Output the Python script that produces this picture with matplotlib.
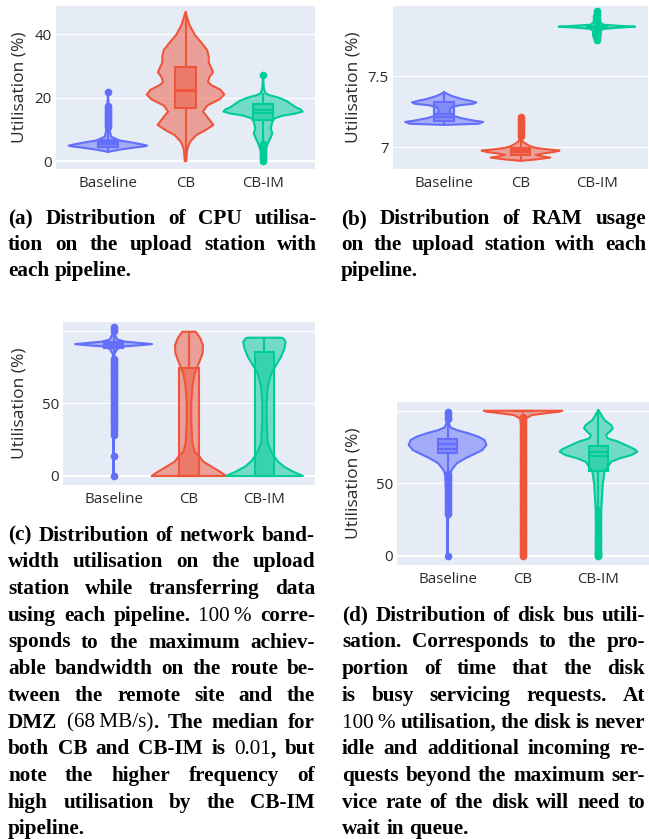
import matplotlib
matplotlib.use('Agg')
import matplotlib.pyplot as plt
from matplotlib.patches import Polygon, Rectangle
from matplotlib.colors import to_rgba
import numpy as np
import re

W, H, DPI = 649, 839, 100

categories = ['Baseline', 'CB', 'CB-IM']
colors = ['#636EFA', '#EF553B', '#00CC96']

# ---------------- (a) CPU utilisation ----------------
cpu_shape_y = [[2.9, 3.6, 4.2, 4.6, 4.84, 5.2, 5.8, 6.5, 7.7, 10, 15, 21.7],
               [0, 2, 4, 6.1, 8.2, 9.8, 11.4, 13, 15.6, 17.5, 19.5, 21, 22.5, 24, 25, 26.5, 28, 29.5, 31, 33, 35, 37.2, 39.8, 43, 47],
               [0, 2, 4, 6, 7.5, 8.7, 10.3, 12.4, 13.5, 14.3, 15.0, 15.6, 16.2, 17.0, 18.0, 19.0, 20.0, 20.8, 21.4, 23, 25, 27]]
cpu_shape_w = [[0.0, 0.15, 0.32, 0.46, 0.505, 0.45, 0.32, 0.15, 0.04, 0.02, 0.012, 0.0],
               [0.01, 0.015, 0.025, 0.06, 0.14, 0.26, 0.36, 0.31, 0.225, 0.28, 0.44, 0.50, 0.45, 0.33, 0.29, 0.31, 0.355, 0.33, 0.30, 0.30, 0.28, 0.21, 0.12, 0.05, 0.0],
               [0.0, 0.02, 0.04, 0.07, 0.10, 0.12, 0.10, 0.12, 0.15, 0.25, 0.42, 0.51, 0.49, 0.42, 0.36, 0.30, 0.20, 0.08, 0.03, 0.01, 0.005, 0.0]]
cpu_q1 = [4.3, 16.6, 12.9]
cpu_median = [5.3, 22.1, 16.2]
cpu_q3 = [6.8, 29.6, 17.9]
cpu_mean = [6.1, 22.5, 15.3]
cpu_whisker_lo = [2.9, 0.0, 5.6]
cpu_whisker_hi = [10.4, 47.0, 21.3]
cpu_outliers = [[10.8, 11.4, 12.0, 12.6, 13.2, 13.8, 14.4, 15.0, 15.6, 16.2, 16.8, 17.4, 21.7],
                [],
                [0.0, 0.6, 1.2, 1.8, 2.4, 3.0, 3.6, 4.2, 4.8, 5.4, 27.0]]

# ---------------- (b) RAM usage ----------------
ram_shape_y = [[7.158, 7.165, 7.178, 7.19, 7.205, 7.22, 7.24, 7.26, 7.28, 7.295, 7.305, 7.315, 7.325, 7.34, 7.36, 7.385],
               [6.905, 6.915, 6.928, 6.937, 6.947, 6.957, 6.967, 6.977, 6.986, 6.996, 7.01, 7.025, 7.04, 7.06, 7.1, 7.15, 7.22],
               [7.75, 7.765, 7.79, 7.815, 7.83, 7.838, 7.846, 7.852, 7.86, 7.88, 7.92, 7.955]]
ram_shape_w = [[0.05, 0.45, 0.51, 0.36, 0.22, 0.13, 0.08, 0.07, 0.09, 0.2, 0.38, 0.42, 0.35, 0.22, 0.1, 0.0],
               [0.0, 0.2, 0.39, 0.28, 0.2, 0.3, 0.44, 0.51, 0.35, 0.2, 0.12, 0.07, 0.03, 0.01, 0.005, 0.005, 0.0],
               [0.0, 0.04, 0.05, 0.05, 0.08, 0.25, 0.5, 0.3, 0.08, 0.04, 0.04, 0.0]]
ram_q1 = [7.185, 6.946, 7.840]
ram_median = [7.215, 6.970, 7.846]
ram_q3 = [7.315, 6.998, 7.853]
ram_mean = [7.235, 6.978, 7.847]
ram_whisker_lo = [7.158, 6.905, 7.822]
ram_whisker_hi = [7.385, 7.07, 7.872]
ram_outliers = [[],
                [7.08, 7.095, 7.11, 7.125, 7.14, 7.155, 7.17, 7.185, 7.2, 7.215],
                [7.755, 7.765, 7.775, 7.785, 7.795, 7.805, 7.815, 7.88, 7.895, 7.91, 7.925, 7.94, 7.955]]

# ---------------- (c) Network bandwidth ----------------
net_shape_y = [[0, 30, 60, 84, 87.5, 89.2, 90.2, 90.8, 91.4, 92.5, 94, 97, 102.5],
               [0, 3, 6.4, 9.9, 13.3, 16.7, 22.5, 38.5, 50, 61.5, 70.6, 77.5, 84.4, 90.1, 94.7, 98.6, 99.3],
               [0, 3, 6.4, 9.9, 13.3, 16.7, 22.5, 38.5, 50, 61.5, 70.6, 76.4, 82, 87.8, 92.4, 94.7, 95.2]]
net_shape_w = [[0.0, 0.006, 0.006, 0.01, 0.05, 0.15, 0.40, 0.51, 0.38, 0.15, 0.05, 0.02, 0.0],
               [0.495, 0.41, 0.30, 0.19, 0.14, 0.075, 0.045, 0.03, 0.03, 0.045, 0.075, 0.13, 0.18, 0.185, 0.15, 0.10, 0.09],
               [0.51, 0.38, 0.26, 0.18, 0.13, 0.09, 0.044, 0.03, 0.03, 0.044, 0.09, 0.155, 0.22, 0.265, 0.28, 0.25, 0.22]]
net_q1 = [88.0, 0.01, 0.01]
net_median = [90.6, 0.01, 0.01]
net_q3 = [92.4, 74.5, 85.1]
net_mean = [89.6, np.nan, np.nan]
net_whisker_lo = [81.5, 0.0, 0.0]
net_whisker_hi = [98.5, 99.3, 95.2]
net_outliers = [[0, 14, 28.5, 30, 31.5, 34, 35.5, 37, 38.5, 40, 41.5, 43, 44.5, 46, 47.5, 49, 50.5, 52, 53.5, 55,
                 56.5, 58, 59.5, 61, 62.5, 64, 65.5, 67, 68.5, 70, 71.5, 73, 74.5, 76, 77.5, 79, 80.5,
                 99.5, 101, 102.5],
                [],
                []]

# ---------------- (d) Disk bus utilisation ----------------
disk_shape_y = [[0, 20, 29, 40, 55, 58, 60.3, 63.8, 67.2, 70.6, 72.9, 76.4, 79.8, 82.1, 84.4, 86.7, 88.5, 92, 99.5],
                [0, 50, 90, 94.7, 97, 98.6, 99.3, 100],
                [0, 10, 20, 30, 34, 38.5, 50, 58, 61.5, 64.9, 67.2, 69.5, 71.8, 73.5, 75.2, 78.7, 81, 83.3, 85.6, 87.8, 90.1, 93.6, 97, 100.5]]
disk_shape_w = [[0.0, 0.006, 0.008, 0.015, 0.03, 0.044, 0.07, 0.124, 0.235, 0.37, 0.46, 0.515, 0.49, 0.41, 0.28, 0.12, 0.04, 0.01, 0.0],
                [0.0, 0.01, 0.02, 0.04, 0.12, 0.35, 0.48, 0.52],
                [0.0, 0.01, 0.02, 0.03, 0.04, 0.044, 0.058, 0.08, 0.124, 0.17, 0.28, 0.44, 0.515, 0.48, 0.41, 0.26, 0.12, 0.10, 0.15, 0.19, 0.17, 0.08, 0.04, 0.0]]
disk_q1 = [71.1, 99.6, 58.5]
disk_median = [77.0, 100.0, 71.8]
disk_q3 = [80.3, 100.0, 75.9]
disk_mean = [73.4, np.nan, 69.0]
disk_whisker_lo = [57.5, 99.0, 33.0]
disk_whisker_hi = [93.5, 100.0, 100.5]
disk_outliers = [[0, 29, 30.5, 32, 33.5, 35, 36.5, 38.5, 40, 41.5, 43, 44.5, 46, 47.5, 49, 50.5, 52, 53.5, 55, 56.5,
                  94.5, 96, 97.5, 99],
                 [0, 1.5, 3, 4.5, 6, 7.5, 9, 10.5, 12, 13.5, 15, 16.5, 18, 19.5, 21, 22.5, 24, 25.5, 27, 28.5,
                  30, 31.5, 33, 34.5, 36, 37.5, 39, 40.5, 42, 43.5, 45, 46.5, 48, 49.5, 51, 52.5, 54, 55.5,
                  57, 58.5, 60, 61.5, 63, 64.5, 66, 67.5, 69, 70.5, 72, 73.5, 75, 76.5, 78, 79.5, 81, 82.5,
                  84, 85.5, 87, 88.5, 90, 91.5, 93, 94.5, 96],
                 [0, 0.6, 1.2, 2, 3, 4, 5, 6.5, 8, 9.5, 11, 12.5, 14, 15.5, 17, 18.5, 20, 21.5, 23, 24.5,
                  26, 27.5, 29, 30.5, 32]]

y_label = 'Utilisation (%)'
cpu_ticks, cpu_ticklabels = [0, 20, 40], ['0', '20', '40']
ram_ticks, ram_ticklabels = [7, 7.5], ['7', '7.5']
net_ticks, net_ticklabels = [0, 50, 100], ['0', '50', '']
disk_ticks, disk_ticklabels = [0, 50, 100], ['0', '50', '']

# Captions ({...} = regular weight)
caption_a = ["(a) Distribution of CPU utilisa-",
             "tion on the upload station with",
             "each pipeline."]
caption_b = ["(b) Distribution of RAM usage",
             "on the upload station with each",
             "pipeline."]
caption_c = ["(c) Distribution of network band-",
             "width utilisation on the upload",
             "station while transferring data",
             "using each pipeline. {100\u2009%} corre-",
             "sponds to the maximum achiev-",
             "able bandwidth on the route be-",
             "tween the remote site and the",
             "DMZ {(68\u2009MB/s)}. The median for",
             "both CB and CB-IM is {0.01}, but",
             "note the higher frequency of",
             "high utilisation by the CB-IM",
             "pipeline."]
caption_d = ["(d) Distribution of disk bus utili-",
             "sation. Corresponds to the pro-",
             "portion of time that the disk",
             "is busy servicing requests. At",
             "{100\u2009%} utilisation, the disk is never",
             "idle and additional incoming re-",
             "quests beyond the maximum ser-",
             "vice rate of the disk will need to",
             "wait in queue."]

# ---------------- styling ----------------
BG = '#E5ECF6'
TEXT = '#2a2a2a'
TICK_FONT = ['Open Sans', 'DejaVu Sans']
SERIF = ['Liberation Serif', 'DejaVu Serif']

fig = plt.figure(figsize=(W / DPI, H / DPI), dpi=DPI)
fig.patch.set_facecolor('white')


def px_axes(x0, y0, x1, y1):
    return fig.add_axes([x0 / W, 1 - y1 / H, (x1 - x0) / W, (y1 - y0) / H])


panels = [
    dict(box=(56, 6, 315, 169), ylim=(-2.5, 48.9), ticks=cpu_ticks, tl=cpu_ticklabels, zero=True,
         sy=cpu_shape_y, sw=cpu_shape_w, q1=cpu_q1, med=cpu_median, q3=cpu_q3, mean=cpu_mean,
         wlo=cpu_whisker_lo, whi=cpu_whisker_hi, out=cpu_outliers, ylx=20),
    dict(box=(393, 6, 648, 169), ylim=(6.848, 7.991), ticks=ram_ticks, tl=ram_ticklabels, zero=False,
         sy=ram_shape_y, sw=ram_shape_w, q1=ram_q1, med=ram_median, q3=ram_q3, mean=ram_mean,
         wlo=ram_whisker_lo, whi=ram_whisker_hi, out=ram_outliers, ylx=353),
    dict(box=(63, 322, 315, 485), ylim=(-6.2, 106), ticks=net_ticks, tl=net_ticklabels, zero=True,
         sy=net_shape_y, sw=net_shape_w, q1=net_q1, med=net_median, q3=net_q3, mean=net_mean,
         wlo=net_whisker_lo, whi=net_whisker_hi, out=net_outliers, ylx=20),
    dict(box=(397, 402, 649, 565), ylim=(-6.2, 106), ticks=disk_ticks, tl=disk_ticklabels, zero=True,
         sy=disk_shape_y, sw=disk_shape_w, q1=disk_q1, med=disk_median, q3=disk_q3, mean=disk_mean,
         wlo=disk_whisker_lo, whi=disk_whisker_hi, out=disk_outliers, ylx=353),
]

positions = np.arange(len(categories))
BOX_HW = 0.13
LW = 1.5

for p in panels:
    x0, y0, x1, y1 = p['box']
    ax = px_axes(x0, y0, x1, y1)
    ax.set_facecolor(BG)
    for s in ax.spines.values():
        s.set_visible(False)
    ax.set_xlim(-0.67, 2.67)
    ax.set_ylim(*p['ylim'])
    ax.set_yticks(p['ticks'])
    ax.set_yticklabels(p['tl'])
    ax.set_xticks(positions)
    ax.set_xticklabels(categories)
    ax.tick_params(axis='both', length=0, labelsize=10.8, labelcolor=TEXT)
    ax.tick_params(axis='y', pad=3)
    ax.tick_params(axis='x', pad=5)
    for lab in ax.get_xticklabels() + ax.get_yticklabels():
        lab.set_family(TICK_FONT)
    ax.grid(axis='y', color='white', lw=0.8)
    ax.set_axisbelow(True)
    if p['zero']:
        ax.axhline(0, color='white', lw=1.6, zorder=0.5)
    ax.set_ylabel(y_label, fontsize=12.5, color=TEXT, family=TICK_FONT, va='center')
    ax.yaxis.set_label_coords((p['ylx'] - x0) / (x1 - x0), 0.5)

    for i, c in enumerate(positions):
        col = colors[i]
        y = np.asarray(p['sy'][i], float)
        w = np.asarray(p['sw'][i], float)
        xs = np.concatenate([c - w, (c + w)[::-1]])
        ys = np.concatenate([y, y[::-1]])
        ax.add_patch(Polygon(np.column_stack([xs, ys]), closed=True,
                             facecolor=to_rgba(col, 0.5), edgecolor=col, lw=LW,
                             joinstyle='round', zorder=2))
        # box
        ax.add_patch(Rectangle((c - BOX_HW, p['q1'][i]), 2 * BOX_HW, p['q3'][i] - p['q1'][i],
                               facecolor=to_rgba(col, 0.5), edgecolor=col, lw=LW, zorder=3))
        ax.plot([c - BOX_HW, c + BOX_HW], [p['med'][i]] * 2, color=col, lw=LW, zorder=3)
        if not np.isnan(p['mean'][i]):
            ax.plot([c - BOX_HW, c + BOX_HW], [p['mean'][i]] * 2, color=col, lw=LW, zorder=3)
        ax.plot([c, c], [p['wlo'][i], p['q1'][i]], color=col, lw=LW, zorder=3)
        ax.plot([c, c], [p['q3'][i], p['whi'][i]], color=col, lw=LW, zorder=3)
        if len(p['out'][i]):
            ax.plot([c] * len(p['out'][i]), p['out'][i], 'o', ms=5.5, color=col,
                    mec='none', zorder=4)

# ---------------- justified captions ----------------
renderer = fig.canvas.get_renderer()


def parse_tokens(line):
    toks = []
    for word in re.findall(r'(?:\{[^}]*\}|[^\s{])+', line):
        pieces = []
        for reg, bold in re.findall(r'\{([^}]*)\}|([^{]+)', word):
            if reg:
                pieces.append((reg, 'normal'))
            else:
                pieces.append((bold, 'bold'))
        toks.append(pieces)
    return toks


def text_width(s, weight, size):
    t = fig.text(0, 0, s, fontsize=size, fontweight=weight, family=SERIF)
    wpx = t.get_window_extent(renderer).width
    t.remove()
    return wpx


# choose the caption size so the tightest justified line just fits its column
REF = 10.0
ref_space = text_width('a a', 'bold', REF) - text_width('aa', 'bold', REF)
ratios = []
for lines, xl, xr in [(caption_a, 8, 317), (caption_b, 341, 646),
                      (caption_c, 8, 315), (caption_d, 342, 645)]:
    for li, line in enumerate(lines[:-1]):
        toks = parse_tokens(line)
        nat = sum(text_width(s, wt, REF) for tok in toks for s, wt in tok) + ref_space * 0.8 * (len(toks) - 1)
        ratios.append((xr - xl) / nat)
CAP_SIZE = REF * min(ratios)
space_w = (text_width('a a', 'bold', CAP_SIZE) - text_width('aa', 'bold', CAP_SIZE))


def draw_caption(lines, xl, xr, y_first, dy):
    for li, line in enumerate(lines):
        toks = parse_tokens(line)
        widths = [sum(text_width(s, wt, CAP_SIZE) for s, wt in tok) for tok in toks]
        last = li == len(lines) - 1
        if last or len(toks) == 1:
            gap = space_w
        else:
            gap = (xr - xl - sum(widths)) / (len(toks) - 1)
        x = xl
        yb = y_first + li * dy
        for tok, tw in zip(toks, widths):
            xx = x
            for s, wt in tok:
                fig.text(xx / W, 1 - yb / H, s, fontsize=CAP_SIZE, fontweight=wt,
                         family=SERIF, color='black', ha='left', va='baseline')
                xx += text_width(s, wt, CAP_SIZE)
            x += tw + gap


draw_caption(caption_a, 8, 317, 224, 26.2)
draw_caption(caption_b, 341, 646, 224, 26.2)
draw_caption(caption_c, 8, 315, 540.7, 26.7)
draw_caption(caption_d, 342, 645, 620.7, 26.7)

fig.savefig('out.png', dpi=DPI)
